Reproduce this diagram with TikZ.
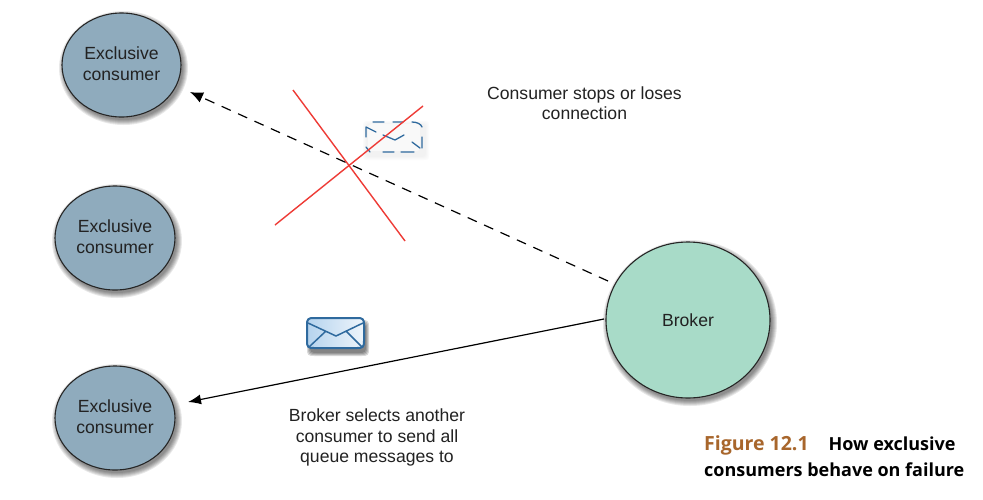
\documentclass[tikz,border=0pt]{standalone}
\usepackage{fontspec}
\setmainfont{Liberation Sans}
\newfontfamily\capfont{Open Sans}
\usetikzlibrary{shapes.geometric,arrows.meta}
\definecolor{conscol}{HTML}{8FABBD}
\definecolor{brokcol}{HTML}{A8DBC8}
\definecolor{redx}{HTML}{EE3B36}
\definecolor{envblue}{HTML}{2F6A9E}
\definecolor{capbrown}{HTML}{A8662C}
\definecolor{txt}{HTML}{222222}
\definecolor{envlight}{HTML}{B5D3EE}
\definecolor{envpale}{HTML}{EEF5FB}
\tikzset{
  consumer/.style={ellipse,draw=black!85,line width=1.1pt,fill=conscol,minimum width=120pt,minimum height=104pt,inner sep=0pt,align=center,text=txt,font=\fontsize{17.6}{21}\selectfont},
  broker/.style={consumer,fill=brokcol,minimum width=164pt,minimum height=156pt},
  lbl/.style={align=center,text=txt,inner sep=0pt,font=\fontsize{17.6}{20.2}\selectfont},
  caplbl/.style={align=left,anchor=north west,inner sep=0pt,font=\capfont\bfseries\fontsize{18}{26}\selectfont},
  dashconn/.style={black,line width=1.2pt,dash pattern=on 10pt off 8pt,-{Latex[length=13pt,width=11pt]}},
  solidconn/.style={black,line width=1.2pt,-{Latex[length=13pt,width=10pt]}},
  redline/.style={redx,line width=1.4pt},
  envdash/.style={envblue,line width=1.3pt,line cap=round},
}
\newcommand{\softshad}[4]{%
  \foreach \k in {0,1,...,5}{
    \fill[black,opacity=0.09] (#1+2,#2+3) ellipse ({#3+5-\k} and {#4+5-\k});
  }}
\newcommand{\envbody}[5]{% x y w h radius
  (#1+#5,#2) -- (#1+#3-#5,#2) .. controls (#1+#3-1,#2) and (#1+#3,#2+1) .. (#1+#3,#2+#5)
  -- (#1+#3,#2+#4-#5) .. controls (#1+#3,#2+#4-1) and (#1+#3-1,#2+#4) .. (#1+#3-#5,#2+#4)
  -- (#1+#5,#2+#4) .. controls (#1+1,#2+#4) and (#1,#2+#4-1) .. (#1,#2+#4-#5)
  -- (#1,#2+#5) .. controls (#1,#2+1) and (#1+1,#2) .. (#1+#5,#2) -- cycle}
\begin{document}
\begin{tikzpicture}[x=1pt,y=-1pt]
\useasboundingbox (0,0) rectangle (983,499);
\fill[white] (0,0) rectangle (983,499);

% soft shadows
\softshad{121.5}{65}{59.5}{52}
\softshad{115}{238}{60}{52}
\softshad{115}{418}{60}{52}
\softshad{688}{320}{82}{78}

% nodes
\node[consumer,minimum width=119pt] (c1) at (121.5,65) {\raisebox{3pt}{Exclusive}\\\raisebox{3pt}{consumer}};
\node[consumer] (c2) at (115,238) {\raisebox{3pt}{Exclusive}\\\raisebox{3pt}{consumer}};
\node[consumer] (c3) at (115,418) {\raisebox{3pt}{Exclusive}\\\raisebox{3pt}{consumer}};
\node[broker] (broker) at (688,320) {Broker};

% connector free ends
\coordinate (tipA) at (190,92);
\coordinate (tipB) at (188,402);
\coordinate (startA) at (608,281);
\coordinate (startB) at (604,319);
\draw[dashconn] (startA) -- (tipA);
\draw[solidconn] (startB) -- (tipB);

% dashed envelope
\foreach \k in {0,1,2,3}{
  \fill[black!30,opacity=0.04] \envbody{366-\k}{124-\k}{60+2*\k}{33+2*\k}{5};
}
\fill[white,opacity=0.6] \envbody{368}{124}{52}{27}{4};
\draw[envdash] (373,122) -- (384,122) (393,122) -- (403,122)
  (412,122) .. controls (417,122) and (421,124) .. (422,127)
  (422,137) -- (422,148) (414,152) -- (401,152) (394,152) -- (383,152)
  (370,152) -- (366,147) (366,137) -- (366,127)
  (366,127) -- (376,132) (383,135) -- (395,140) -- (404,135) (412,142) -- (420,148);

% red cross
\draw[redline] (293,90) -- (405,241);
\draw[redline] (423,106) -- (275,225);

% solid envelope
\foreach \k in {0,1,2,3}{
  \fill[black,opacity=0.15] \envbody{310-\k}{323-\k}{56+2*\k}{30+2*\k}{7};
}
\shade[left color=envlight,right color=envpale]
  \envbody{307}{318}{57}{30}{7};
\draw[envblue,line width=2pt] \envbody{307}{318}{57}{30}{7};
\draw[envblue,line width=1.5pt] (308,323) -- (336,336) -- (363,323) (309,347) -- (326,331) (346,331) -- (362,347);

% labels
\node[lbl] (note1) at (584.5,103) {Consumer stops or loses\\connection};
\node[lbl] (note2) at (377,437.5) {Broker selects another\\consumer to send all\\queue messages to};
\node[caplbl] (cap) at (704,435) {\textcolor{capbrown}{\fontsize{19.5}{26}\selectfont Figure 12.1}\hspace{20pt}How exclusive\\consumers behave on failure};
\end{tikzpicture}
\end{document}
